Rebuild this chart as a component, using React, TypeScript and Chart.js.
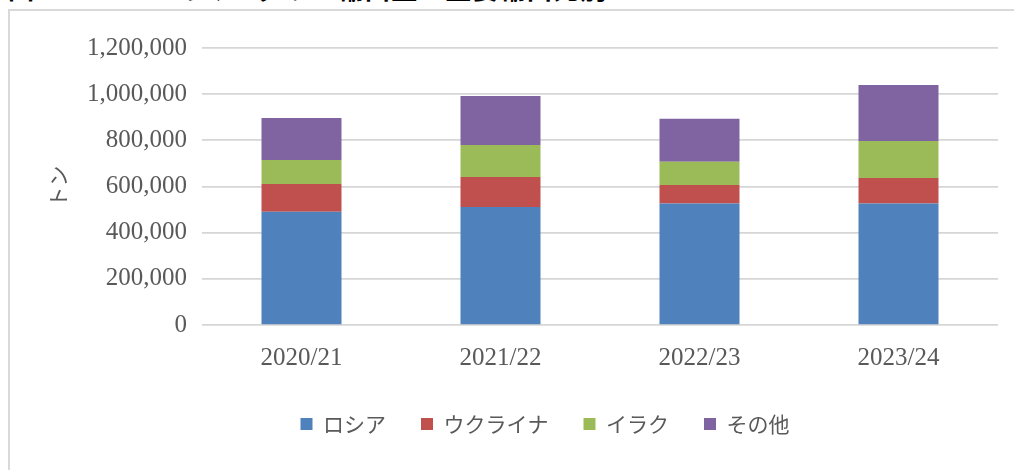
import React, { useEffect, useRef } from "react";
import { Chart, registerables } from "chart.js";

Chart.register(...registerables);

const categories = ["2020/21", "2021/22", "2022/23", "2023/24"];
const russia = [491000, 511000, 526000, 526000];
const ukraine = [120000, 130000, 81000, 111000];
const iraq = [104000, 139000, 100000, 160000];
const others = [182000, 212000, 186000, 243000];
const seriesNames = ["ロシア", "ウクライナ", "イラク", "その他"];
const yTicks = [0, 200000, 400000, 600000, 800000, 1000000, 1200000];

const TITLE = "図15　トルコのマンダリン輸出量　主要輸出先別";

export default function App() {
  const ref = useRef<HTMLCanvasElement | null>(null);

  useEffect(() => {
    if (!ref.current) return;
    const serif = "'Liberation Serif', 'Noto Sans CJK JP', serif";
    const jp = "'Noto Sans CJK JP', sans-serif";
    const chart = new Chart(ref.current, {
      type: "bar",
      data: {
        labels: categories,
        datasets: [
          { label: seriesNames[0], data: russia, backgroundColor: "#4f81bd" },
          { label: seriesNames[1], data: ukraine, backgroundColor: "#c0504d" },
          { label: seriesNames[2], data: iraq, backgroundColor: "#9bbb59" },
          { label: seriesNames[3], data: others, backgroundColor: "#8064a2" },
        ].map((d) => ({ ...d, categoryPercentage: 1, barPercentage: 0.402, borderWidth: 0 })),
      },
      options: {
        responsive: false,
        animation: false,
        layout: { padding: { left: 31, right: 21, top: 37, bottom: 25.5 } },
        plugins: {
          tooltip: { enabled: false },
          legend: {
            position: "bottom",
            labels: {
              boxWidth: 12,
              boxHeight: 12,
              padding: 35,
              color: "#595959",
              font: { family: jp, size: 21 },
            },
          },
        },
        scales: {
          x: {
            stacked: true,
            grid: { display: false, drawTicks: false },
            border: { display: false },
            ticks: { color: "#595959", font: { family: serif, size: 25 }, padding: 18 },
            afterFit: (s: any) => {
              s.height = 53.5;
            },
          },
          y: {
            stacked: true,
            min: 0,
            max: 1200000,
            afterBuildTicks: (s: any) => {
              s.ticks = yTicks.map((v) => ({ value: v }));
            },
            grid: { color: "#d6d6d6", lineWidth: 1.7, drawTicks: false },
            border: { display: false },
            ticks: {
              color: "#595959",
              font: { family: serif, size: 25 },
              padding: 15,
              callback: (v: any) => Number(v).toLocaleString("en-US"),
            },
            title: {
              display: true,
              text: "トン",
              color: "#595959",
              font: { family: jp, size: 21 },
              padding: { top: 4.4, bottom: 4 },
            },
            afterFit: (s: any) => {
              s.width = 161;
            },
          },
          y2: {
            position: "right",
            display: true,
            grid: { display: false, drawTicks: false },
            border: { display: false },
            ticks: { display: false },
            afterFit: (s: any) => {
              s.width = 51;
            },
          },
        },
      },
    });
    return () => chart.destroy();
  }, []);

  return (
    <div style={{ position: "absolute", left: 0, top: 0, width: 1014, height: 470, overflow: "hidden", background: "#fff" }}>
      <div
        style={{
          position: "absolute",
          left: 8,
          top: -26,
          fontFamily: "'Noto Sans CJK JP', sans-serif",
          fontWeight: 700,
          fontSize: 26,
          lineHeight: "27px",
          letterSpacing: "1px",
          whiteSpace: "nowrap",
          color: "#000",
        }}
      >
        {TITLE}
      </div>
      <div
        style={{
          position: "absolute",
          left: 8,
          top: 9,
          width: 1100,
          height: 520,
          border: "2px solid #d9d9d9",
          boxSizing: "border-box",
          background: "#fff",
        }}
      >
        <canvas ref={ref} width={1060} height={459} style={{ position: "absolute", left: 0, top: 0 }} />
      </div>
    </div>
  );
}
